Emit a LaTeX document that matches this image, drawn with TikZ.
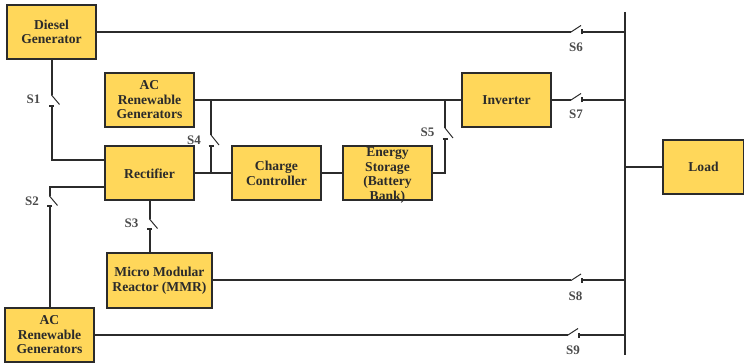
\documentclass[tikz,border=0pt]{standalone}
\usepackage{fontspec}
\setmainfont{Liberation Serif}
\usepackage{xcolor}
\usetikzlibrary{arrows.meta,positioning}
\definecolor{xyellow}{HTML}{FFD75A}
\definecolor{xdark}{HTML}{2B2B2B}

\begin{document}
\begin{tikzpicture}[
    x=1pt, y=-1pt,
    block/.style={rectangle, draw=xdark, line width=2pt, fill=xyellow, minimum height=54pt, minimum width=89pt, inner sep=0pt, outer sep=0pt, font=\fontsize{13.6}{14.5}\selectfont\bfseries, text=xdark, align=center},
    wire/.style={draw=xdark, line width=2pt},
    contact/.style={wire, {Bar[width=5pt,length=1pt]}-},
    blade/.style={draw=xdark, line width=1pt},
    swlabel/.style={font=\fontsize{13}{14}\selectfont\bfseries, text=xdark!85, inner sep=0pt},
]
\useasboundingbox (0,0) rectangle (744,363);

% --- Sources and converters ---
\node[block] (diesel) at (51.5,32) {Diesel\\Generator};
\node[block] (acone) at (149.5,100) {AC\\Renewable\\Generators};
\node[block, below=19.5pt of acone] (rectifier) {Rectifier};
\node[block, right=38pt of rectifier] (charge) {Charge\\Controller};
\node[block, right=22pt of charge] (storage) {\smash{\raisebox{-5.5pt}{\begin{tabular}{@{}c@{}}Energy\\Storage\\(Battery\\Bank)\end{tabular}}}};
\node[block, right=268pt of acone] (inverter) {Inverter};
\node[block, below=53pt of rectifier, xshift=10pt, minimum width=105pt] (mmr) {Micro Modular\\Reactor (MMR)};
\node[block] (actwo) at (49.5,335) {AC\\Renewable\\Generators};
\node[block, minimum width=81pt] (load) at (703.5,167) {Load};

% --- Bus ---
\coordinate (bustop) at (625,12);
\coordinate (busbot) at (625,355);
\draw[draw=xdark, line width=2.6pt] (bustop) -- (busbot);

% --- Switch end points ---
\coordinate (s1a) at (51.5,95);  \coordinate (s1b) at (51.5,105);
\coordinate (s2a) at (49.5,196); \coordinate (s2b) at (49.5,205.5);
\coordinate (s3a) at (149.5,219);\coordinate (s3b) at (149.5,228.5);
\coordinate (s4a) at (211,135);  \coordinate (s4b) at (211,145);
\coordinate (s5a) at (445,128);  \coordinate (s5b) at (445,138);
\coordinate (s6a) at (571,32);   \coordinate (s6b) at (581,32);
\coordinate (s7a) at (571,100);  \coordinate (s7b) at (581,100);
\coordinate (s8a) at (571,280.5);\coordinate (s8b) at (581,280.5);
\coordinate (s9a) at (568,335);  \coordinate (s9b) at (578,335);

% --- Blades ---
\draw[blade] (s1a) -- ++(8,9.5);
\draw[blade] (s2a) -- ++(8,9.5);
\draw[blade] (s3a) -- ++(8,9.5);
\draw[blade] (s4a) -- ++(8,10);
\draw[blade] (s5a) -- ++(8,10);
\draw[blade] (s6a) -- ++(10,-6.5);
\draw[blade] (s7a) -- ++(10,-6.5);
\draw[blade] (s8a) -- ++(10,-6.5);
\draw[blade] (s9a) -- ++(10,-6.5);

% --- Wires: left side ---
\draw[wire] (diesel.south) -- (s1a);
\draw[contact] (s1b) |- ([yshift=13.5pt]rectifier.west);
\draw[wire] ([yshift=-13.5pt]rectifier.west) -| (s2a);
\draw[contact] (s2b) -- (s2b |- actwo.north);
\draw[wire] (rectifier.south) -- (s3a);
\draw[contact] (s3b) -- (s3b |- mmr.north);

% --- Wires: middle ---
\draw[wire] (rectifier.east) -- (charge.west);
\draw[wire] (charge.east) -- (storage.west);
\draw[wire] (acone.east) -- (inverter.west);
\draw[wire] (s4a |- acone.east) -- (s4a);
\draw[contact] (s4b) -- (s4b |- rectifier.east);
\draw[wire] (s5a |- inverter.west) -- (s5a);
\draw[contact] (s5b) |- (storage.east);

% --- Wires: to the bus ---
\draw[wire] (diesel.east) -- (s6a);
\draw[contact] (s6b) -- (s6b -| bustop);
\draw[wire] (inverter.east) -- (s7a);
\draw[contact] (s7b) -- (s7b -| bustop);
\draw[wire] (mmr.east) -- (s8a);
\draw[contact] (s8b) -- (s8b -| bustop);
\draw[wire] (actwo.east) -- (s9a);
\draw[contact] (s9b) -- (s9b -| bustop);
\draw[wire] (load.west) -- (load.west -| bustop);

% --- Labels ---
\node[swlabel] (s1lab) at (33.5,99) {S1};
\node[swlabel] (s2lab) at (32,201) {S2};
\node[swlabel] (s3lab) at (131.5,223) {S3};
\node[swlabel] (s4lab) at (194,140) {S4};
\node[swlabel] (s5lab) at (427.5,132.5) {S5};
\node[swlabel] (s6lab) at (576,47) {S6};
\node[swlabel] (s7lab) at (576,114) {S7};
\node[swlabel] (s8lab) at (575.5,296) {S8};
\node[swlabel] (s9lab) at (573,350) {S9};

\end{tikzpicture}
\end{document}
